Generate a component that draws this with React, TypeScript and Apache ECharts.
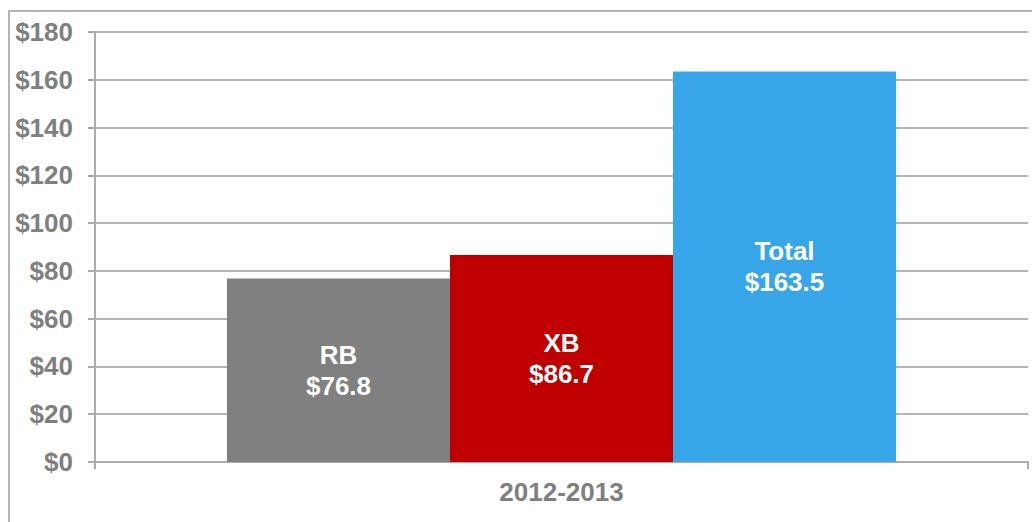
import React, { useEffect, useRef } from "react";
import * as echarts from "echarts";

const categories = ["2012-2013"];
const seriesNames = ["RB", "XB", "Total"];
const seriesValues = [[76.8], [86.7], [163.5]];
const seriesColors = ["#808080", "#C00000", "#36A6E8"];
const yTicks = [0, 20, 40, 60, 80, 100, 120, 140, 160, 180];

export default function App() {
  const ref = useRef<HTMLDivElement>(null);
  useEffect(() => {
    document.body.style.margin = "0";
    const chart = echarts.init(ref.current!, null, { renderer: "svg" });
    const font = "Arial, 'Liberation Sans', sans-serif";
    chart.setOption({
      animation: false,
      backgroundColor: "#ffffff",
      graphic: [
        {
          type: "rect",
          shape: { x: 9, y: 11, width: 1100, height: 600 },
          style: { fill: "none", stroke: "#b4b4b4", lineWidth: 2 },
          silent: true,
          z: 0,
        },
      ],
      grid: { left: 95, right: 4, top: 32, bottom: 60, containLabel: false },
      xAxis: {
        type: "category",
        data: categories,
        axisLine: { lineStyle: { color: "#ababab", width: 2 } },
        axisTick: { show: true, length: 7, lineStyle: { color: "#ababab", width: 2 } },
        axisLabel: {
          color: "#7f7f7f",
          fontWeight: "bold",
          fontSize: 26,
          fontFamily: font,
          margin: 17,
        },
      },
      yAxis: {
        type: "value",
        min: yTicks[0],
        max: yTicks[yTicks.length - 1],
        interval: 20,
        axisLine: { show: true, lineStyle: { color: "#ababab", width: 2 } },
        axisTick: { show: true, length: 7, lineStyle: { color: "#ababab", width: 2 } },
        splitLine: { lineStyle: { color: "#b4b4b4", width: 2 } },
        axisLabel: {
          color: "#7f7f7f",
          fontWeight: "bold",
          fontSize: 26,
          fontFamily: font,
          margin: 22,
          formatter: (v: number) => "$" + v,
        },
      },
      series: seriesNames.map((name, i) => ({
        name,
        type: "bar",
        data: seriesValues[i],
        barWidth: 223,
        barGap: "0%",
        itemStyle: { color: seriesColors[i] },
        label: {
          show: true,
          position: "inside",
          color: "#ffffff",
          fontWeight: "bold",
          fontSize: 26,
          fontFamily: font,
          lineHeight: 31,
          formatter: (p: any) => `${p.seriesName}\n$${p.value.toFixed(1)}`,
        },
      })),
    });
    return () => chart.dispose();
  }, []);
  return <div ref={ref} style={{ width: 1032, height: 522 }} />;
}
